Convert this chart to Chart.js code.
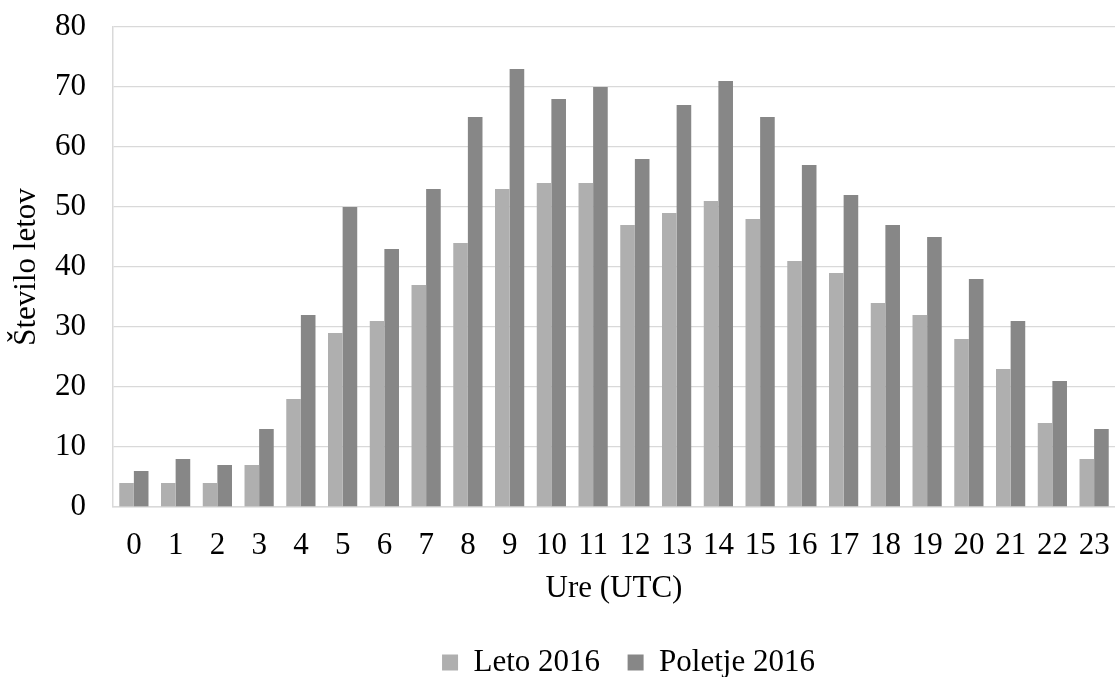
<!DOCTYPE html>
<html>
<head>
<meta charset="utf-8">
<script src="https://cdn.jsdelivr.net/npm/chart.js@4/dist/chart.umd.min.js"></script>
<style>
  html, body { margin: 0; padding: 0; background: #fff; }
  #wrap { width: 1115px; height: 677px; }
</style>
</head>
<body>
<div id="wrap"><canvas id="c"></canvas></div>
<script>
// Hours of the day (UTC)
const hours = ['0','1','2','3','4','5','6','7','8','9','10','11','12','13','14','15','16','17','18','19','20','21','22','23'];
// Number of flights per hour
const leto2016 = [4,4,4,7,18,29,31,37,44,53,54,54,47,49,51,48,41,39,34,32,28,23,14,8];
const poletje2016 = [6,8,7,13,32,50,43,53,65,73,68,70,58,67,71,65,57,52,47,45,38,31,21,13];
const seriesNames = ['Leto 2016', 'Poletje 2016'];
const yTitle = 'Število letov';
const xTitle = 'Ure (UTC)';

const font = { family: '"Liberation Serif", "Times New Roman", serif', size: 31 };
const gridColor = '#d9d9d9';
const legendShift = 71; // legend sits right of the canvas centre

// Move the legend sideways after layout
const legendOffset = {
  id: 'legendOffset',
  afterLayout(chart) {
    if (chart.legend) {
      chart.legend.left += legendShift;
      chart.legend.right += legendShift;
    }
  }
};

new Chart(document.getElementById('c'), {
  type: 'bar',
  data: {
    labels: hours,
    datasets: [
      { label: seriesNames[0], data: leto2016, backgroundColor: '#afafaf',
        categoryPercentage: 0.7, barPercentage: 1.0 },
      { label: seriesNames[1], data: poletje2016, backgroundColor: '#878787',
        categoryPercentage: 0.7, barPercentage: 1.0 }
    ]
  },
  plugins: [legendOffset],
  options: {
    responsive: true,
    maintainAspectRatio: false,
    animation: false,
    devicePixelRatio: 1,
    layout: { padding: { left: 0, right: 0, top: 27, bottom: -11 } },
    plugins: {
      tooltip: { enabled: false },
      legend: {
        position: 'bottom',
        labels: {
          font: font,
          color: '#000',
          boxWidth: 16,
          boxHeight: 16,
          padding: 27.5
        }
      }
    },
    scales: {
      x: {
        afterFit: (scale) => { scale.height = 112.5; scale.paddingLeft = 0; scale.paddingRight = 0; },
        grid: { display: false, drawTicks: false },
        border: { display: true, color: gridColor, width: 1.5 },
        ticks: { font: font, color: '#000', padding: 20, maxRotation: 0, autoSkip: false },
        title: { display: true, text: xTitle, font: font, color: '#000', padding: { top: 4, bottom: 12 } }
      },
      y: {
        min: 0, max: 80,
        afterFit: (scale) => { scale.width = 113; scale.paddingTop = 0; scale.paddingBottom = 0; },
        grid: { color: gridColor, lineWidth: 1.3, drawTicks: false },
        border: { display: true, color: gridColor, width: 1.5 },
        ticks: { stepSize: 10, font: font, color: '#000', padding: 27 },
        title: { display: true, text: yTitle, font: font, color: '#000', padding: { top: 8, bottom: 0 } }
      }
    }
  }
});
</script>
</body>
</html>
